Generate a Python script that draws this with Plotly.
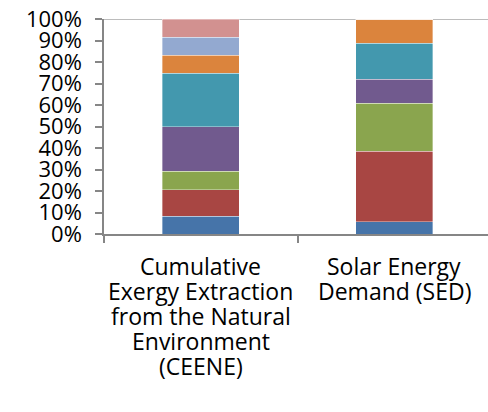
import plotly.graph_objects as go

categories = [
    "Cumulative<br>Exergy Extraction<br>from the Natural<br>Environment<br>(CEENE)",
    "Solar Energy<br>Demand (SED)",
]
series_names = ["S1", "S2", "S3", "S4", "S5", "S6", "S7", "S8"]
series_values = [
    [0.083, 0.057],
    [0.124, 0.329],
    [0.084, 0.222],
    [0.207, 0.112],
    [0.249, 0.167],
    [0.085, 0.113],
    [0.084, 0.000],
    [0.084, 0.000],
]
colors = ["#4674A9", "#A84643", "#8AA54E", "#715A8E", "#4398AE", "#DB843D", "#93A9D0", "#D29190"]
y_ticks = [i / 10 for i in range(11)]
y_tick_labels = [f"{i*10}%" for i in range(11)]
x_boundaries = [-0.5, 0.5]

fig = go.Figure()
for name, vals, col in zip(series_names, series_values, colors):
    fig.add_trace(go.Bar(
        x=[0, 1], y=vals, name=name,
        marker=dict(color=col, line=dict(color="rgba(255,255,255,0.45)", width=0.8)),
    ))

ytick_font = dict(family="Open Sans", size=22, color="#000000")
cat_font = dict(family="Open Sans", size=23, color="#000000")

annotations = []
for i, cat in enumerate(categories):
    for j, line in enumerate(cat.split("<br>")):
        annotations.append(dict(
            x=i, xref="x", y=0, yref="paper", yanchor="top", xanchor="center",
            yshift=-(14 + 25 * j), text=line, showarrow=False, font=cat_font,
        ))

fig.update_layout(
    barmode="stack", bargap=0.6,
    width=488, height=412,
    margin=dict(l=104, r=0, t=19, b=178, autoexpand=False),
    paper_bgcolor="white", plot_bgcolor="white",
    showlegend=False, font=ytick_font,
    annotations=annotations,
    shapes=[dict(type="line", xref="paper", yref="y", x0=0, x1=1, y0=1, y1=1,
                 line=dict(color="#A6A6A6", width=1.5), layer="below")],
)
fig.update_xaxes(
    range=[-0.5, 1.4845], tickmode="array", tickvals=x_boundaries, ticktext=["", ""],
    showticklabels=False, automargin=False,
    ticks="outside", ticklen=7, tickcolor="#868686", tickwidth=1.5,
    showline=True, linecolor="#868686", linewidth=1.5, showgrid=False, zeroline=False,
)
fig.update_yaxes(
    range=[0, 1], tickmode="array", tickvals=y_ticks, ticktext=y_tick_labels,
    automargin=False, ticklabeloverflow="allow",
    ticks="outside", ticklen=7, tickcolor="#868686", tickwidth=1.5,
    showline=True, linecolor="#868686", linewidth=1.5, showgrid=False, zeroline=False,
    tickfont=ytick_font, ticklabelstandoff=9,
)
fig.write_html("out.html", config={"displayModeBar": False},
               post_script="document.body.style.margin='0px';")
